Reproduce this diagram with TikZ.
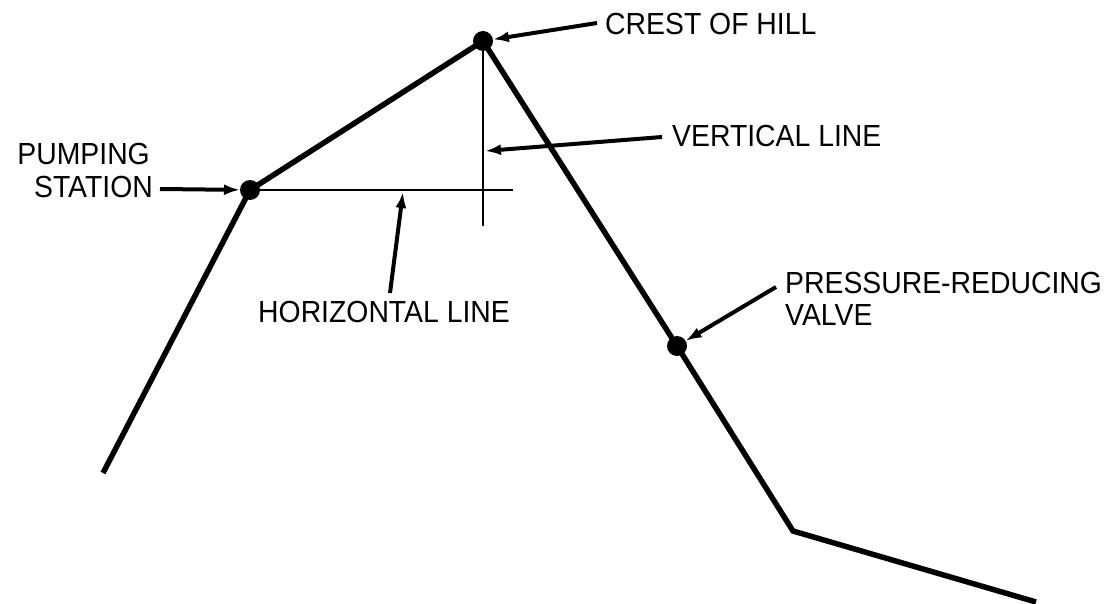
\documentclass[tikz,border=0pt]{standalone}
\usepackage{fontspec}
\setmainfont{Liberation Sans}[FakeStretch=0.93]
\usetikzlibrary{arrows.meta}
\begin{document}
\begin{tikzpicture}[x=1pt,y=-1pt,
  profile/.style={line width=5.5pt,line join=miter},
  thin/.style={line width=2.4pt},
  dot/.style={circle,fill=black,inner sep=0pt,minimum size=20pt,outer sep=0pt},
  arr/.style={line width=4pt,-{Latex[length=16pt,width=11pt]}},
  lbl/.style={inner sep=0pt,font=\fontsize{30.5}{32}\selectfont,align=left},
]
\useasboundingbox (0,0) rectangle (1110,604);
% profile points
\coordinate (start) at (103,473);
\node[dot] (ps) at (250,190) {};
\node[dot] (crest) at (483,41) {};
\node[dot] (prv) at (677,346) {};
\coordinate (bend) at (793,531);
\coordinate (end) at (1036,602);
\draw[profile] (start) -- (ps.center) -- (crest.center) -- (prv.center) -- (bend) -- (end);
% reference lines
\coordinate (hend) at (513,190);
\coordinate (vend) at (483,226);
\draw[thin] (ps.center) -- (hend);
\draw[thin] (crest.center) -- (vend);
% labels
\node[lbl,anchor=base west] (lcrest) at (605,35) {CREST OF HILL};
\node[lbl,anchor=base west] (lvert) at (672,147) {VERTICAL LINE};
\node[lbl,anchor=base west] (lhor) at (258,322) {HORIZONTAL LINE};
\node[lbl,anchor=base east] (lps2) at (153,197) {STATION};
\node[lbl,anchor=base east] (lps1) at (150,165) {PUMPING};
\node[lbl,anchor=base west] (lprv1) at (785,293) {PRESSURE-REDUCING};
\node[lbl,anchor=base west] (lprv2) at (785,325) {VALVE};
% arrow ends
\coordinate (vtip) at (485,151);
\coordinate (htip) at (403,192);
\coordinate (crestS) at (597,23);
\coordinate (vertS) at (662,137);
\coordinate (horS) at (390,293);
\coordinate (psS) at (160,189);
\coordinate (prvS) at (776,287);
\draw[arr] (crestS) -- (crest);
\draw[arr] (vertS) -- (vtip);
\draw[arr] (horS) -- (htip);
\draw[arr] (psS) -- (ps);
\draw[arr] (prvS) -- (prv);
\end{tikzpicture}
\end{document}
